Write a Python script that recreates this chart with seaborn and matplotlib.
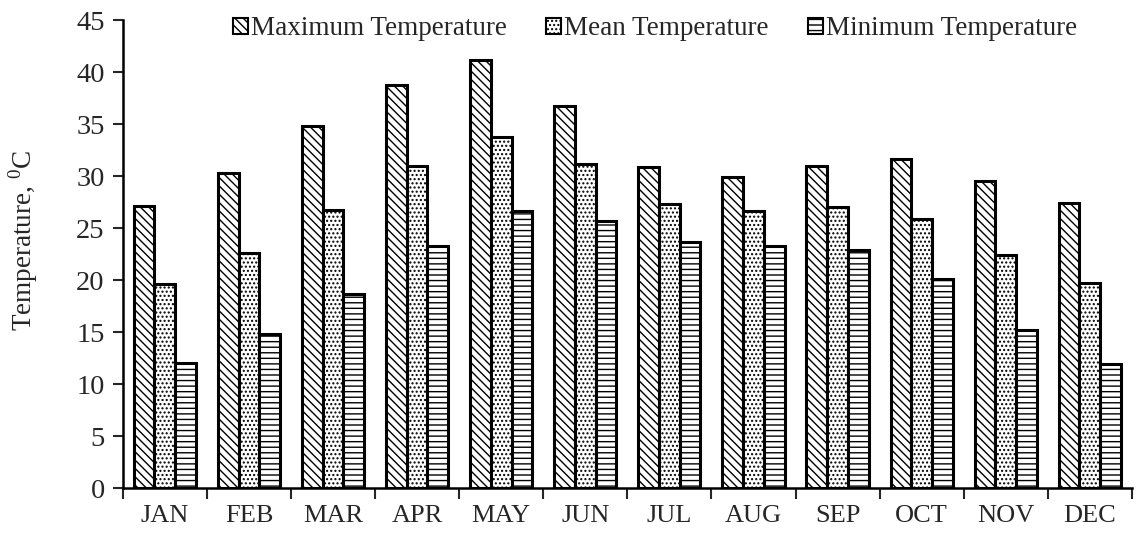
import matplotlib
matplotlib.use("Agg")
import matplotlib.pyplot as plt
import seaborn as sns
import pandas as pd
import numpy as np

months = ["JAN", "FEB", "MAR", "APR", "MAY", "JUN", "JUL", "AUG", "SEP", "OCT", "NOV", "DEC"]
series_names = ["Maximum Temperature", "Mean Temperature", "Minimum Temperature"]
max_temp = [27.1, 30.3, 34.8, 38.8, 41.2, 36.7, 30.9, 29.9, 31.0, 31.6, 29.5, 27.4]
mean_temp = [19.6, 22.6, 26.7, 31.0, 33.8, 31.2, 27.3, 26.6, 27.0, 25.9, 22.4, 19.7]
min_temp = [12.0, 14.8, 18.7, 23.3, 26.6, 25.7, 23.7, 23.3, 22.9, 20.1, 15.2, 11.9]
hatches = ["\\\\\\\\", "....", "---"]

sns.set_style("ticks")
plt.rcParams["font.family"] = ["Liberation Serif", "DejaVu Serif"]
plt.rcParams["mathtext.fontset"] = "custom"
plt.rcParams["mathtext.rm"] = "Liberation Serif"
plt.rcParams["hatch.linewidth"] = 1.0
plt.rcParams["hatch.color"] = "black"

df = pd.DataFrame({
    "Month": months * 3,
    "Series": np.repeat(series_names, len(months)),
    "Temperature": max_temp + mean_temp + min_temp,
})

fig = plt.figure(figsize=(11.37, 5.33), dpi=100)
ax = fig.add_axes([0.108, 0.0844, 0.8875, 0.878])

sns.barplot(data=df, x="Month", y="Temperature", hue="Series", order=months,
            hue_order=series_names, width=0.74, gap=0, palette=["white"] * 3,
            edgecolor="black", linewidth=2.2, legend=False, ax=ax, errorbar=None,
            saturation=1)

for cont, h in zip(ax.containers, hatches):
    for p in cont.patches:
        p.set_hatch(h)
        p.set_facecolor("white")
        p.set_edgecolor("black")

ax.set_ylim(0, 45)
ax.set_xlim(-0.5, len(months) - 0.5)
ax.set_yticks(np.arange(0, 46, 5))
ax.tick_params(axis="y", labelsize=20.5, length=7, width=1.5, direction="out", pad=6)

# month labels sit between the boundary ticks
ax.set_xticks(np.arange(-0.5, len(months), 1.0))
ax.set_xticklabels([])
ax.set_xticks(np.arange(len(months)), minor=True)
ax.set_xticklabels(months, minor=True, fontsize=19)
ax.tick_params(axis="x", which="major", length=8, width=1.5, direction="out")
ax.tick_params(axis="x", which="minor", length=0, pad=12)

ax.set_xlabel("")
ax.set_ylabel(r"Temperature, $^{0}$C", fontsize=19.5)
ax.yaxis.set_label_coords(-0.082, 0.53)

sns.despine(ax=ax)
for s in ["left", "bottom"]:
    ax.spines[s].set_linewidth(1.8)
    ax.spines[s].set_color("black")

leg = ax.legend(handles=ax.containers, labels=series_names, ncol=3, frameon=False,
                fontsize=19.5, loc="center", bbox_to_anchor=(0.576, 0.946),
                bbox_transform=fig.transFigure, handlelength=0.55, handleheight=0.55,
                handletextpad=0.12, columnspacing=1.45, borderaxespad=0)
for h in leg.legend_handles:
    h.set_linewidth(1.5)

fig.savefig("out.png", dpi=100)
